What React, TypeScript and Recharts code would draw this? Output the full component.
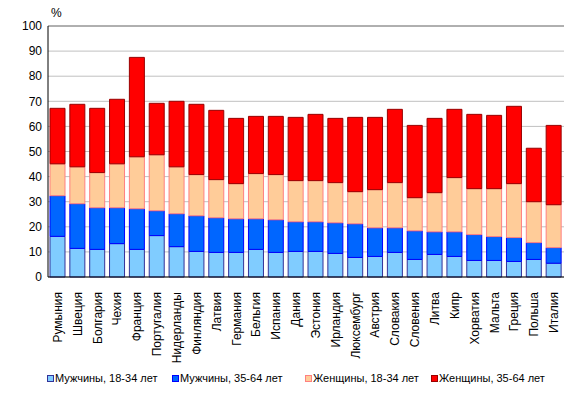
import React from 'react';
import {
  BarChart,
  Bar,
  XAxis,
  YAxis,
  CartesianGrid,
  ReferenceLine,
} from 'recharts';

const countries = [
  'Румыния', 'Швеция', 'Болгария', 'Чехия', 'Франция', 'Португалия',
  'Нидерланды', 'Финляндия', 'Латвия', 'Германия', 'Бельгия', 'Испания',
  'Дания', 'Эстония', 'Ирландия', 'Люксембург', 'Австрия', 'Словакия',
  'Словения', 'Литва', 'Кипр', 'Хорватия', 'Мальта', 'Греция', 'Польша', 'Италия',
];

const men18 = [16.2, 11.4, 11.0, 13.3, 11.0, 16.5, 12.1, 10.2, 9.8, 9.8, 11.0, 9.8, 10.2, 10.2, 9.4, 7.8, 8.2, 9.8, 7.0, 9.0, 8.2, 6.6, 6.6, 6.2, 7.0, 5.5];
const men35 = [16.2, 17.8, 16.6, 14.3, 16.2, 9.9, 13.1, 14.2, 13.8, 13.4, 12.2, 13.0, 11.8, 11.8, 12.2, 13.4, 11.4, 9.8, 11.4, 9.0, 9.8, 10.3, 9.5, 9.5, 6.7, 6.2];
const women18 = [12.7, 14.7, 14.0, 17.5, 20.7, 22.3, 18.7, 16.4, 15.2, 14.0, 18.0, 18.0, 16.4, 16.4, 16.0, 12.8, 15.2, 18.0, 13.2, 15.6, 21.6, 18.3, 19.1, 21.5, 16.3, 17.1];
const women35 = [22.1, 24.9, 25.6, 25.7, 39.6, 20.5, 26.1, 28.0, 27.6, 26.0, 22.8, 23.2, 25.2, 26.4, 25.6, 29.6, 28.8, 29.2, 28.8, 29.6, 27.2, 29.6, 29.2, 30.8, 21.3, 31.6];

const yTicks = [0, 10, 20, 30, 40, 50, 60, 70, 80, 90, 100];

const seriesNames = [
  'Мужчины, 18-34 лет',
  'Мужчины, 35-64 лет',
  'Женщины, 18-34 лет',
  'Женщины, 35-64 лет',
];

const data = countries.map((country, i) => ({
  country,
  m18: men18[i],
  m35: men35[i],
  w18: women18[i],
  w35: women35[i],
}));

const FONT = "Arial, 'Liberation Sans', sans-serif";

const series = [
  { key: 'm18', fill: '#80CCFF', stroke: '#333399', legendX: 47 },
  { key: 'm35', fill: '#0066FF', stroke: '#0000FF', legendX: 172 },
  { key: 'w18', fill: '#FFCC99', stroke: '#FF8080', legendX: 305 },
  { key: 'w35', fill: '#FF0000', stroke: '#990000', legendX: 431 },
];

function CountryTick(props: any) {
  const { x, y, payload } = props;
  return (
    <text
      transform={`translate(${x + 4},${y + 7}) rotate(-90)`}
      textAnchor="end"
      fontSize={12}
      fontFamily={FONT}
      fill="#000"
    >
      {payload.value}
    </text>
  );
}

export default function App() {
  return (
    <div style={{ position: 'absolute', left: 0, top: 0, width: 579, height: 396, background: '#fff', fontFamily: FONT }}>
      <BarChart
        width={579}
        height={396}
        data={data}
        margin={{ top: 26, right: 15, bottom: 0, left: 8 }}
        barSize={15}
      >
        <CartesianGrid vertical={false} stroke="#C0C0C0" />
        <XAxis
          dataKey="country"
          interval={0}
          height={119}
          tick={<CountryTick />}
          tickLine={false}
          axisLine={{ stroke: '#000' }}
        />
        <YAxis
          domain={[0, 100]}
          ticks={yTicks}
          width={40}
          tickSize={0}
          tickMargin={6}
          tickLine={false}
          axisLine={{ stroke: '#000' }}
          tick={{ fontSize: 12, fill: '#000', fontFamily: FONT }}
        />
        <YAxis
          yAxisId="right"
          orientation="right"
          domain={[0, 100]}
          width={0}
          tick={false}
          tickLine={false}
          axisLine={{ stroke: '#808080' }}
        />
        <ReferenceLine y={100} stroke="#808080" />
        {series.map((s) => (
          <Bar
            key={s.key}
            dataKey={s.key}
            stackId="a"
            fill={s.fill}
            stroke={s.stroke}
            strokeWidth={1}
            isAnimationActive={false}
          />
        ))}
      </BarChart>
      <div style={{ position: 'absolute', left: 51, top: 6, fontSize: 12, color: '#000' }}>%</div>
      {series.map((s, i) => (
        <div
          key={s.key}
          style={{
            position: 'absolute',
            left: s.legendX,
            top: 372,
            fontSize: 11,
            color: '#000',
            display: 'flex',
            alignItems: 'center',
            whiteSpace: 'nowrap',
          }}
        >
          <span
            style={{
              display: 'inline-block',
              width: 5,
              height: 5,
              background: s.fill,
              border: `1px solid ${s.stroke}`,
              marginRight: 1,
            }}
          />
          {seriesNames[i]}
        </div>
      ))}
    </div>
  );
}
